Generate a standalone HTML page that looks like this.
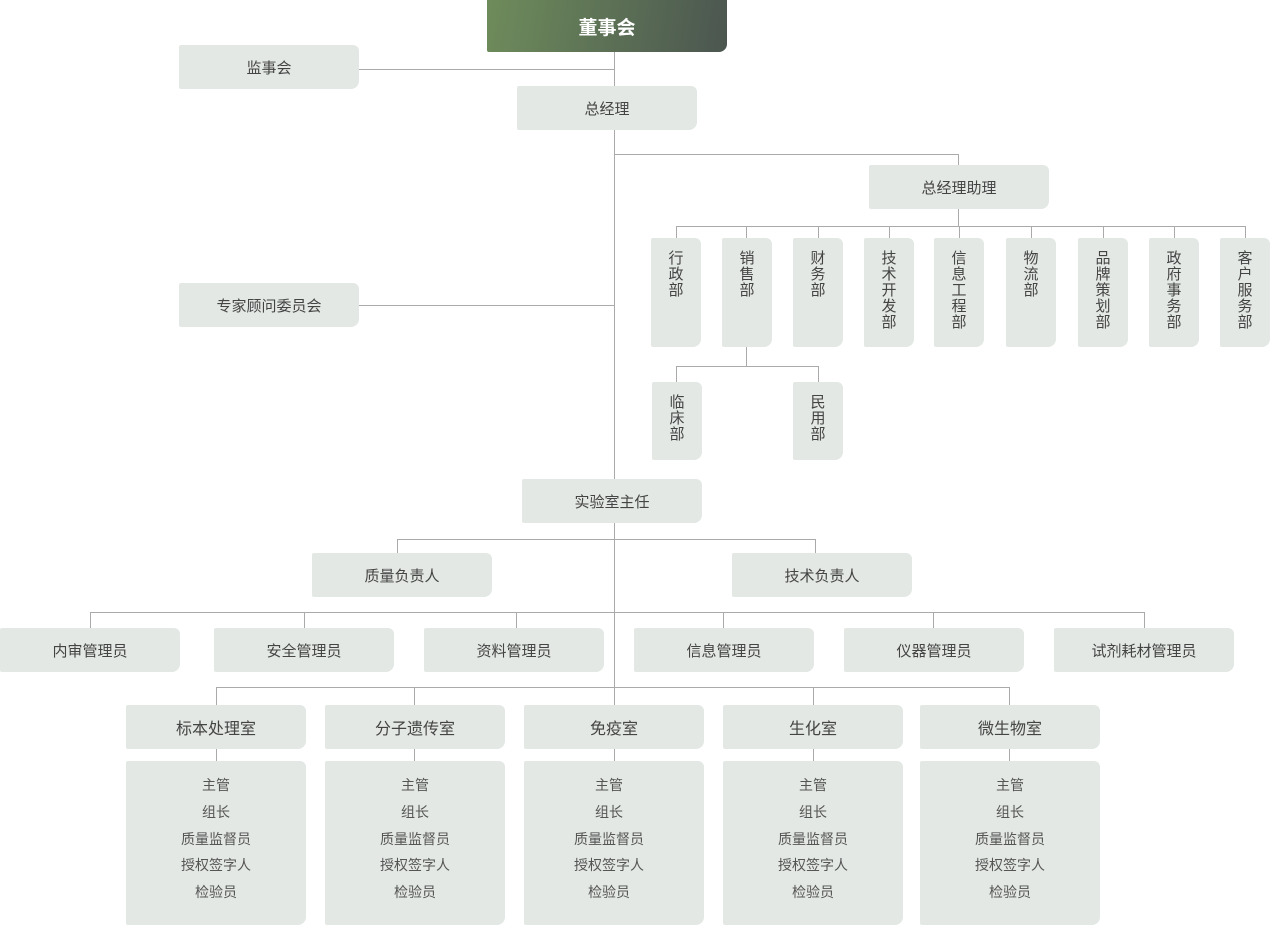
<!DOCTYPE html>
<html><head><meta charset="utf-8"><style>
body{margin:0;width:1270px;height:925px;position:relative;background:#fff;font-family:"Liberation Sans","Noto Sans CJK SC",sans-serif;overflow:hidden}
.b{position:absolute;background:#e3e8e4;color:#444;font-size:15px;display:flex;align-items:center;justify-content:center;border-radius:2px 6px 8px 2px}
.v{flex-direction:column;justify-content:flex-start;padding-top:13px;box-sizing:border-box;line-height:16px;font-size:15px}
.l{position:absolute;background:#aaa}
.h{height:1px}.w{width:1px}
.d{position:absolute;background:#e3e8e4;color:#555;font-size:14px;text-align:center;border-radius:2px 6px 8px 2px;box-sizing:border-box;padding-top:11px;line-height:26.8px}
</style></head><body>
<div class="l w" style="left:614px;top:52px;height:653px"></div>
<div class="l h" style="left:359px;top:69px;width:255px"></div>
<div class="l h" style="left:359px;top:305px;width:255px"></div>
<div class="l h" style="left:614px;top:154px;width:345px"></div>
<div class="l w" style="left:958px;top:154px;height:11px"></div>
<div class="l w" style="left:958px;top:209px;height:17px"></div>
<div class="l h" style="left:676px;top:226px;width:570px"></div>
<div class="l w" style="left:676px;top:226px;height:12px"></div>
<div class="l w" style="left:746px;top:226px;height:12px"></div>
<div class="l w" style="left:818px;top:226px;height:12px"></div>
<div class="l w" style="left:889px;top:226px;height:12px"></div>
<div class="l w" style="left:959px;top:226px;height:12px"></div>
<div class="l w" style="left:1031px;top:226px;height:12px"></div>
<div class="l w" style="left:1103px;top:226px;height:12px"></div>
<div class="l w" style="left:1174px;top:226px;height:12px"></div>
<div class="l w" style="left:1245px;top:226px;height:12px"></div>
<div class="l w" style="left:746px;top:347px;height:19px"></div>
<div class="l h" style="left:676px;top:366px;width:143px"></div>
<div class="l w" style="left:676px;top:366px;height:16px"></div>
<div class="l w" style="left:818px;top:366px;height:16px"></div>
<div class="l h" style="left:397px;top:539px;width:419px"></div>
<div class="l w" style="left:397px;top:539px;height:14px"></div>
<div class="l w" style="left:815px;top:539px;height:14px"></div>
<div class="l h" style="left:90px;top:612px;width:1055px"></div>
<div class="l w" style="left:90px;top:612px;height:16px"></div>
<div class="l w" style="left:304px;top:612px;height:16px"></div>
<div class="l w" style="left:516px;top:612px;height:16px"></div>
<div class="l w" style="left:723px;top:612px;height:16px"></div>
<div class="l w" style="left:933px;top:612px;height:16px"></div>
<div class="l w" style="left:1144px;top:612px;height:16px"></div>
<div class="l h" style="left:216px;top:687px;width:794px"></div>
<div class="l w" style="left:216px;top:687px;height:18px"></div>
<div class="l w" style="left:414px;top:687px;height:18px"></div>
<div class="l w" style="left:813px;top:687px;height:18px"></div>
<div class="l w" style="left:1009px;top:687px;height:18px"></div>
<div class="l w" style="left:216px;top:749px;height:12px"></div>
<div class="l w" style="left:414px;top:749px;height:12px"></div>
<div class="l w" style="left:614px;top:749px;height:12px"></div>
<div class="l w" style="left:813px;top:749px;height:12px"></div>
<div class="l w" style="left:1009px;top:749px;height:12px"></div>

<div class="b" style="left:487px;top:0;width:240px;height:52px;background:linear-gradient(100deg,#6e8c5b,#4b5650);color:#fff;font-size:19px;font-weight:bold;border-radius:0 0 8px 2px">董事会</div>
<div class="b" style="left:179px;top:45px;width:180px;height:44px">监事会</div>
<div class="b" style="left:517px;top:86px;width:180px;height:44px">总经理</div>
<div class="b" style="left:869px;top:165px;width:180px;height:44px">总经理助理</div>
<div class="b" style="left:179px;top:283px;width:180px;height:44px">专家顾问委员会</div>
<div class="b v" style="left:651px;top:238px;width:50px;height:109px"><span>行</span><span>政</span><span>部</span></div>
<div class="b v" style="left:722px;top:238px;width:50px;height:109px"><span>销</span><span>售</span><span>部</span></div>
<div class="b v" style="left:793px;top:238px;width:50px;height:109px"><span>财</span><span>务</span><span>部</span></div>
<div class="b v" style="left:864px;top:238px;width:50px;height:109px"><span>技</span><span>术</span><span>开</span><span>发</span><span>部</span></div>
<div class="b v" style="left:934px;top:238px;width:50px;height:109px"><span>信</span><span>息</span><span>工</span><span>程</span><span>部</span></div>
<div class="b v" style="left:1006px;top:238px;width:50px;height:109px"><span>物</span><span>流</span><span>部</span></div>
<div class="b v" style="left:1078px;top:238px;width:50px;height:109px"><span>品</span><span>牌</span><span>策</span><span>划</span><span>部</span></div>
<div class="b v" style="left:1149px;top:238px;width:50px;height:109px"><span>政</span><span>府</span><span>事</span><span>务</span><span>部</span></div>
<div class="b v" style="left:1220px;top:238px;width:50px;height:109px"><span>客</span><span>户</span><span>服</span><span>务</span><span>部</span></div>
<div class="b v" style="left:652px;top:382px;width:50px;height:78px"><span>临</span><span>床</span><span>部</span></div>
<div class="b v" style="left:793px;top:382px;width:50px;height:78px"><span>民</span><span>用</span><span>部</span></div>
<div class="b" style="left:522px;top:479px;width:180px;height:44px">实验室主任</div>
<div class="b" style="left:312px;top:553px;width:180px;height:44px">质量负责人</div>
<div class="b" style="left:732px;top:553px;width:180px;height:44px">技术负责人</div>
<div class="b" style="left:0;top:628px;width:180px;height:44px">内审管理员</div>
<div class="b" style="left:214px;top:628px;width:180px;height:44px">安全管理员</div>
<div class="b" style="left:424px;top:628px;width:180px;height:44px">资料管理员</div>
<div class="b" style="left:634px;top:628px;width:180px;height:44px">信息管理员</div>
<div class="b" style="left:844px;top:628px;width:180px;height:44px">仪器管理员</div>
<div class="b" style="left:1054px;top:628px;width:180px;height:44px">试剂耗材管理员</div>
<div class="b" style="left:126px;top:705px;width:180px;height:44px;font-size:16px">标本处理室</div>
<div class="b" style="left:325px;top:705px;width:180px;height:44px;font-size:16px">分子遗传室</div>
<div class="b" style="left:524px;top:705px;width:180px;height:44px;font-size:16px">免疫室</div>
<div class="b" style="left:723px;top:705px;width:180px;height:44px;font-size:16px">生化室</div>
<div class="b" style="left:920px;top:705px;width:180px;height:44px;font-size:16px">微生物室</div>
<div class="d" style="left:126px;top:761px;width:180px;height:164px">主管<br>组长<br>质量监督员<br>授权签字人<br>检验员</div>
<div class="d" style="left:325px;top:761px;width:180px;height:164px">主管<br>组长<br>质量监督员<br>授权签字人<br>检验员</div>
<div class="d" style="left:524px;top:761px;width:180px;height:164px;padding-right:10px">主管<br>组长<br>质量监督员<br>授权签字人<br>检验员</div>
<div class="d" style="left:723px;top:761px;width:180px;height:164px">主管<br>组长<br>质量监督员<br>授权签字人<br>检验员</div>
<div class="d" style="left:920px;top:761px;width:180px;height:164px">主管<br>组长<br>质量监督员<br>授权签字人<br>检验员</div>
</body></html>
